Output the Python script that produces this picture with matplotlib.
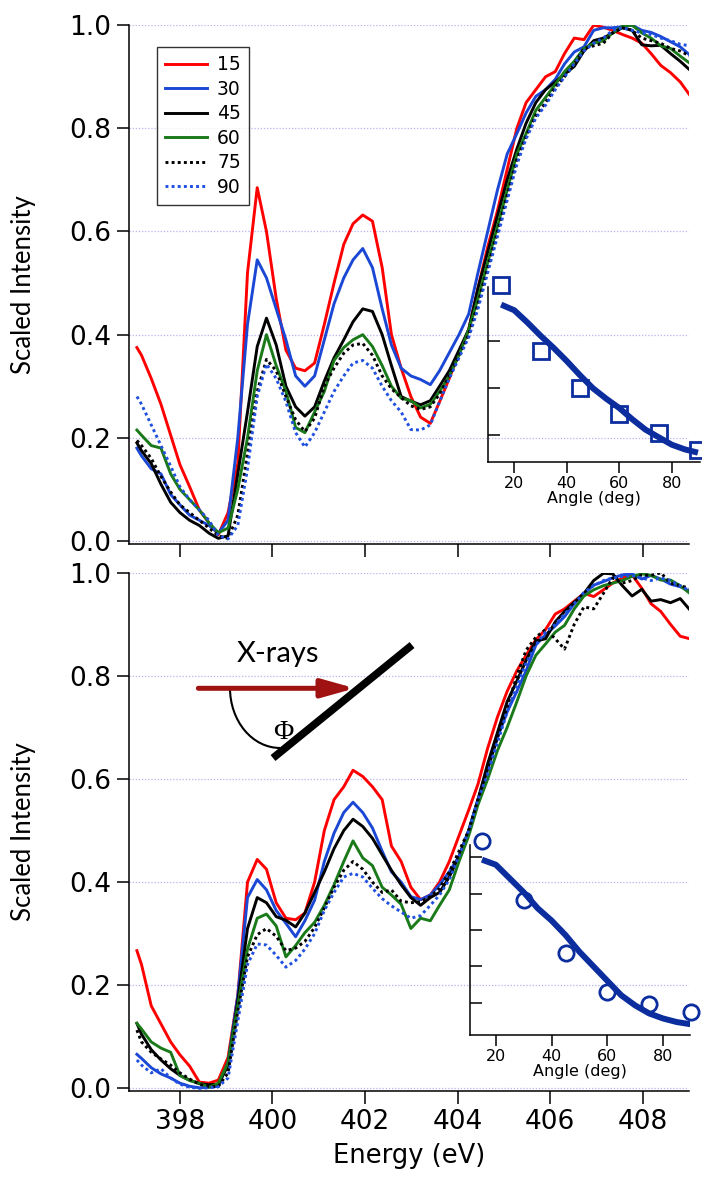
import matplotlib
matplotlib.use("Agg")
import matplotlib.pyplot as plt
from matplotlib.patches import Arc

plt.rcParams['font.family'] = ['DejaVu Sans']

# ---------------- data ----------------
energy = [397.07, 397.17, 397.38, 397.59, 397.80, 398.00, 398.21, 398.42, 398.63, 398.83,
          399.04, 399.25, 399.46, 399.67, 399.87, 400.08, 400.29, 400.50, 400.70, 400.91,
          401.12, 401.33, 401.54, 401.74, 401.95, 402.16, 402.37, 402.57, 402.78, 402.99,
          403.20, 403.41, 403.61, 403.82, 404.03, 404.24, 404.44, 404.65, 404.86, 405.07,
          405.28, 405.48, 405.69, 405.90, 406.11, 406.31, 406.52, 406.73, 406.94, 407.15,
          407.35, 407.56, 407.77, 407.98, 408.18, 408.39, 408.60, 408.81, 409.02]

series_labels = ['15', '30', '45', '60', '75', '90']

# top panel
top_15 = [0.375, 0.36, 0.315, 0.265, 0.205, 0.148, 0.105, 0.06, 0.035, 0.012,
          0.055, 0.15, 0.52, 0.685, 0.60, 0.47, 0.37, 0.335, 0.33, 0.345,
          0.42, 0.50, 0.575, 0.615, 0.632, 0.62, 0.53, 0.40, 0.335, 0.28,
          0.24, 0.228, 0.27, 0.315, 0.365, 0.41, 0.49, 0.57, 0.64, 0.72,
          0.80, 0.85, 0.875, 0.90, 0.91, 0.945, 0.975, 0.972, 1.0, 0.996,
          0.99, 0.982, 0.975, 0.965, 0.945, 0.922, 0.908, 0.89, 0.864]
top_30 = [0.18, 0.165, 0.14, 0.13, 0.09, 0.07, 0.05, 0.04, 0.03, 0.015,
          0.04, 0.20, 0.42, 0.545, 0.51, 0.45, 0.39, 0.32, 0.30, 0.32,
          0.39, 0.46, 0.51, 0.545, 0.567, 0.53, 0.45, 0.38, 0.335, 0.32,
          0.313, 0.303, 0.33, 0.365, 0.40, 0.44, 0.52, 0.60, 0.68, 0.75,
          0.79, 0.83, 0.862, 0.875, 0.895, 0.925, 0.948, 0.958, 0.99, 0.995,
          0.995, 0.997, 1.0, 0.99, 0.986, 0.978, 0.968, 0.958, 0.942]
top_45 = [0.19, 0.175, 0.15, 0.11, 0.075, 0.055, 0.04, 0.03, 0.015, 0.005,
          0.01, 0.13, 0.25, 0.377, 0.432, 0.38, 0.30, 0.26, 0.242, 0.26,
          0.31, 0.355, 0.39, 0.425, 0.45, 0.445, 0.40, 0.34, 0.28, 0.271,
          0.264, 0.272, 0.30, 0.33, 0.37, 0.41, 0.49, 0.56, 0.63, 0.70,
          0.76, 0.81, 0.85, 0.875, 0.89, 0.905, 0.92, 0.95, 0.97, 0.975,
          0.985, 0.995, 0.99, 0.962, 0.96, 0.961, 0.945, 0.93, 0.913]
top_60 = [0.215, 0.205, 0.185, 0.18, 0.13, 0.10, 0.08, 0.06, 0.035, 0.016,
          0.025, 0.10, 0.20, 0.33, 0.40, 0.34, 0.29, 0.22, 0.21, 0.25,
          0.29, 0.35, 0.375, 0.39, 0.40, 0.377, 0.34, 0.30, 0.277, 0.272,
          0.258, 0.265, 0.29, 0.32, 0.36, 0.41, 0.47, 0.54, 0.61, 0.68,
          0.75, 0.79, 0.835, 0.86, 0.885, 0.91, 0.93, 0.955, 0.965, 0.97,
          0.985, 0.998, 1.0, 0.985, 0.975, 0.96, 0.955, 0.94, 0.926]
top_75 = [0.195, 0.185, 0.16, 0.125, 0.095, 0.07, 0.055, 0.04, 0.025, 0.01,
          0.005, 0.05, 0.17, 0.29, 0.352, 0.33, 0.28, 0.235, 0.212, 0.238,
          0.30, 0.335, 0.364, 0.38, 0.383, 0.36, 0.32, 0.295, 0.278, 0.262,
          0.255, 0.26, 0.285, 0.32, 0.36, 0.40, 0.46, 0.53, 0.60, 0.67,
          0.74, 0.785, 0.825, 0.85, 0.88, 0.90, 0.925, 0.955, 0.96, 0.965,
          0.985, 0.995, 0.99, 0.975, 0.97, 0.965, 0.955, 0.95, 0.94]
top_90 = [0.28, 0.265, 0.225, 0.185, 0.145, 0.105, 0.08, 0.06, 0.04, 0.01,
          0.004, 0.03, 0.14, 0.28, 0.343, 0.315, 0.27, 0.21, 0.182, 0.21,
          0.25, 0.29, 0.32, 0.345, 0.35, 0.335, 0.30, 0.272, 0.25, 0.216,
          0.215, 0.225, 0.27, 0.315, 0.355, 0.395, 0.45, 0.52, 0.59, 0.66,
          0.73, 0.78, 0.82, 0.845, 0.875, 0.90, 0.925, 0.95, 0.965, 0.975,
          0.99, 0.995, 0.99, 0.985, 0.982, 0.975, 0.97, 0.963, 0.96]

# bottom panel
bot_15 = [0.267, 0.24, 0.16, 0.125, 0.09, 0.065, 0.043, 0.012, 0.01, 0.016,
          0.06, 0.18, 0.40, 0.444, 0.425, 0.36, 0.33, 0.327, 0.34, 0.40,
          0.50, 0.56, 0.585, 0.617, 0.605, 0.585, 0.56, 0.47, 0.44, 0.39,
          0.366, 0.375, 0.40, 0.44, 0.49, 0.54, 0.59, 0.66, 0.72, 0.77,
          0.81, 0.84, 0.87, 0.89, 0.92, 0.93, 0.945, 0.96, 0.954, 0.967,
          0.98, 0.99, 0.996, 0.97, 0.94, 0.925, 0.90, 0.877, 0.872]
bot_30 = [0.066, 0.058, 0.04, 0.028, 0.02, 0.01, 0.004, 0.001, 0.002, 0.004,
          0.05, 0.18, 0.37, 0.405, 0.385, 0.345, 0.32, 0.294, 0.325, 0.365,
          0.44, 0.495, 0.535, 0.555, 0.535, 0.505, 0.46, 0.42, 0.40, 0.372,
          0.366, 0.375, 0.395, 0.42, 0.45, 0.50, 0.56, 0.62, 0.68, 0.73,
          0.77, 0.81, 0.86, 0.88, 0.897, 0.915, 0.94, 0.96, 0.976, 0.983,
          0.99, 0.996, 0.998, 0.988, 0.995, 0.988, 0.978, 0.973, 0.964]
bot_45 = [0.126, 0.105, 0.075, 0.055, 0.038, 0.025, 0.016, 0.009, 0.007, 0.008,
          0.045, 0.17, 0.31, 0.37, 0.36, 0.333, 0.326, 0.313, 0.34, 0.38,
          0.42, 0.465, 0.50, 0.522, 0.508, 0.485, 0.453, 0.423, 0.395, 0.37,
          0.355, 0.37, 0.38, 0.41, 0.45, 0.50, 0.56, 0.63, 0.69, 0.75,
          0.79, 0.83, 0.868, 0.872, 0.905, 0.925, 0.943, 0.96, 0.985, 0.999,
          0.998, 0.975, 0.955, 0.968, 0.945, 0.948, 0.942, 0.95, 0.928]
bot_60 = [0.126, 0.115, 0.09, 0.078, 0.07, 0.025, 0.015, 0.01, 0.002, 0.01,
          0.05, 0.16, 0.27, 0.33, 0.338, 0.315, 0.255, 0.277, 0.302, 0.322,
          0.355, 0.395, 0.44, 0.48, 0.447, 0.432, 0.39, 0.375, 0.357, 0.31,
          0.33, 0.325, 0.355, 0.385, 0.44, 0.49, 0.55, 0.60, 0.655, 0.70,
          0.75, 0.80, 0.84, 0.862, 0.885, 0.898, 0.93, 0.955, 0.967, 0.975,
          0.98, 0.985, 0.993, 0.998, 0.995, 0.986, 0.986, 0.975, 0.96]
bot_75 = [0.113, 0.09, 0.07, 0.057, 0.045, 0.03, 0.018, 0.008, 0.003, 0.004,
          0.03, 0.15, 0.255, 0.298, 0.31, 0.295, 0.267, 0.272, 0.285, 0.312,
          0.35, 0.39, 0.423, 0.44, 0.425, 0.40, 0.38, 0.385, 0.363, 0.36,
          0.362, 0.372, 0.388, 0.42, 0.46, 0.50, 0.56, 0.62, 0.68, 0.74,
          0.80, 0.85, 0.875, 0.89, 0.872, 0.852, 0.90, 0.934, 0.93, 0.96,
          0.99, 0.98, 0.985, 0.996, 0.995, 1.0, 0.98, 0.975, 0.97]
bot_90 = [0.055, 0.045, 0.03, 0.038, 0.02, 0.008, 0.002, 0.0, 0.001, 0.003,
          0.02, 0.13, 0.24, 0.28, 0.278, 0.258, 0.235, 0.248, 0.27, 0.30,
          0.345, 0.38, 0.41, 0.417, 0.41, 0.388, 0.368, 0.354, 0.342, 0.33,
          0.335, 0.355, 0.375, 0.405, 0.45, 0.50, 0.56, 0.61, 0.67, 0.73,
          0.78, 0.825, 0.86, 0.885, 0.90, 0.92, 0.94, 0.962, 0.975, 0.985,
          0.99, 0.993, 0.995, 0.99, 0.985, 0.99, 0.985, 0.975, 0.965]

# insets: angular dependence
angles = [15, 30, 45, 60, 75, 90]
top_ratio = [0.410, 0.340, 0.3006, 0.2727, 0.2521, 0.2344]
bot_ratio = [0.4232, 0.3414, 0.2679, 0.2141, 0.1979, 0.1865]
fit_angles = [15, 20, 25, 30, 35, 40, 45, 50, 55, 60, 65, 70, 75, 80, 85, 90]
top_fit = [0.389, 0.383, 0.370, 0.356, 0.343, 0.329, 0.314, 0.300, 0.289, 0.279,
           0.267, 0.256, 0.248, 0.240, 0.235, 0.2315]
bot_fit = [0.397, 0.390, 0.371, 0.352, 0.330, 0.313, 0.293, 0.270, 0.250, 0.230,
           0.210, 0.196, 0.185, 0.178, 0.173, 0.170]

xticks = [398, 400, 402, 404, 406, 408]
yticks = [0.0, 0.2, 0.4, 0.6, 0.8, 1.0]
ytick_labels = ['0.0', '0.2', '0.4', '0.6', '0.8', '1.0']
inset_xticks = [20, 40, 60, 80]

# ---------------- style ----------------
colors = ['#ff0000', '#1b47d5', '#000000', '#1a7a1a', '#000000', '#2050e0']
dotted = (0, (1.0, 1.1))
styles = ['-', '-', '-', '-', dotted, dotted]
navy = '#0b2d9e'
grid_color = '#b4b4f0'

fig = plt.figure(figsize=(7.02, 11.77), dpi=100)
ax1 = fig.add_axes([0.1838, 0.5382, 0.7977, 0.4404])
ax2 = fig.add_axes([0.1838, 0.07315, 0.7977, 0.44018])


def style_main(ax, show_xlabels):
    ax.set_xlim(396.9, 409.0)
    ax.set_ylim(-0.005, 1.0)
    for s in ['top', 'right']:
        ax.spines[s].set_visible(False)
    for s in ['left', 'bottom']:
        ax.spines[s].set_linewidth(1.1)
    ax.set_xticks(xticks)
    ax.set_yticks(yticks)
    ax.set_yticklabels(ytick_labels)
    ax.tick_params(direction='out', length=9, width=1.1, labelsize=19, pad=4)
    if not show_xlabels:
        ax.tick_params(axis='x', labelbottom=False)
    ax.grid(axis='y', linestyle=(0, (1, 1.5)), color=grid_color, lw=0.9)
    ax.set_axisbelow(True)
    ax.set_ylabel('Scaled Intensity', family=['Lato', 'DejaVu Sans'], fontsize=18.5)
    ax.yaxis.set_label_coords(-0.166, 0.5)


top_series = [top_15, top_30, top_45, top_60, top_75, top_90]
bot_series = [bot_15, bot_30, bot_45, bot_60, bot_75, bot_90]

handles = []
for vals, c, ls, lab in zip(top_series, colors, styles, series_labels):
    h, = ax1.plot(energy, vals, color=c, ls=ls, lw=2.1, label=lab)
    handles.append(h)
for vals, c, ls, lab in zip(bot_series, colors, styles, series_labels):
    ax2.plot(energy, vals, color=c, ls=ls, lw=2.1)

style_main(ax1, False)
style_main(ax2, True)
ax2.set_xlabel('Energy (eV)', fontsize=18.5, labelpad=6)

leg = ax1.legend(handles=handles, loc='upper left', bbox_to_anchor=(0.05, 0.958),
                 borderaxespad=0, fontsize=13.5, frameon=True, fancybox=False,
                 handlelength=2.2, handletextpad=0.55, labelspacing=0.29,
                 borderpad=0.45)
leg.get_frame().set_edgecolor('black')
leg.get_frame().set_linewidth(1.0)

# ---------------- X-ray geometry sketch (bottom panel) ----------------
ax2.annotate('', xy=(0.4036, 0.7771), xytext=(0.1238, 0.7771), xycoords='axes fraction',
             arrowprops=dict(arrowstyle='-|>,head_length=1.0,head_width=0.28',
                             color='#a01212', lw=3.6, mutation_scale=20,
                             shrinkA=0, shrinkB=0))
ax2.plot([0.2571, 0.5054], [0.6425, 0.8606], transform=ax2.transAxes,
         color='black', lw=5.5, solid_capstyle='butt')
ax2.add_patch(Arc((0.2696, 0.7777), 0.1786, 0.2316, theta1=180, theta2=270,
                  transform=ax2.transAxes, color='black', lw=1.5))
ax2.text(0.2661, 0.8442, 'X-rays', transform=ax2.transAxes, ha='center', va='center',
         fontsize=21, family=['Lato', 'DejaVu Sans'])
ax2.text(0.275, 0.6914, '\u03a6', transform=ax2.transAxes, ha='center', va='center',
         fontsize=20, family=['Liberation Serif', 'DejaVu Serif'])

# ---------------- insets ----------------
def style_inset(ax, xlim, ylim, yt):
    ax.patch.set_alpha(0)
    ax.set_xlim(*xlim)
    ax.set_ylim(*ylim)
    for s in ['top', 'right']:
        ax.spines[s].set_visible(False)
    for s in ['left', 'bottom']:
        ax.spines[s].set_linewidth(1.1)
    ax.set_xticks(inset_xticks)
    ax.set_yticks(yt)
    ax.tick_params(axis='x', direction='out', length=8, width=1.1, labelsize=11.5, pad=2)
    ax.tick_params(axis='y', direction='in', length=8.4, width=1.1, labelleft=False)
    ax.set_xlabel('Angle (deg)', fontsize=11.5, labelpad=0)


ins1 = fig.add_axes([0.6952, 0.6075, 0.3020, 0.1487])
ins1.plot(fit_angles, top_fit, color=navy, lw=4.3, solid_capstyle='butt')
ins1.plot(angles, top_ratio, ls='none', marker='s', ms=12, mfc='none', mec=navy,
          mew=2.0, clip_on=False)
style_inset(ins1, (10, 90.8), (0.2216, 0.4078), [0.25, 0.30, 0.35])

ins2 = fig.add_axes([0.6695, 0.12065, 0.3134, 0.1614])
ins2.plot(fit_angles, bot_fit, color=navy, lw=4.3, solid_capstyle='butt')
ins2.plot(angles, bot_ratio, ls='none', marker='o', ms=11, mfc='none', mec=navy,
          mew=2.0, clip_on=False)
style_inset(ins2, (10.7, 89.7), (0.1552, 0.4172), [0.20, 0.25, 0.30, 0.35, 0.40])

fig.savefig('out.png', dpi=100)
